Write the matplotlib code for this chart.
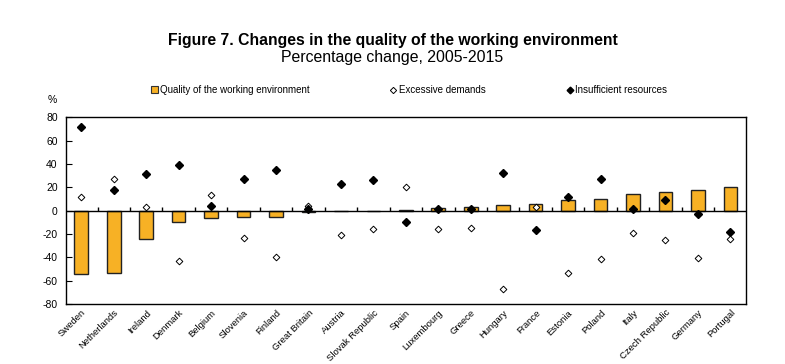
import numpy as np
import matplotlib.pyplot as plt
from matplotlib.lines import Line2D
from matplotlib.patches import Patch

plt.rcParams['font.family'] = ['Liberation Sans', 'DejaVu Sans']
plt.rcParams['axes.unicode_minus'] = False

countries = ["Sweden", "Netherlands", "Ireland", "Denmark", "Belgium", "Slovenia",
             "Finland", "Great Britain", "Austria", "Slovak Republic", "Spain",
             "Luxembourg", "Greece", "Hungary", "France", "Estonia", "Poland",
             "Italy", "Czech Republic", "Germany", "Portugal"]

quality = [-54, -53, -24.4, -10, -6.3, -5.4, -5.4, -1, 0, 0, 0.5,
           2, 3, 5, 5.5, 9.5, 10, 14, 16, 18, 20.4]
excessive = [11.8, 26.7, 3.2, -43, 13.5, -23.5, -40, 4.3, -21, -15.5, 20.4,
             -16, -15, -67, 3.4, -53.6, -41.5, -19, -25, -41, -24]
insufficient = [71.4, 17.8, 31.8, 39, 4.3, 27.3, 34.4, 1, 23, 26, -9.5,
                1, 1, 32.4, -16.3, 11.5, 26.7, 1, 9.5, -2.6, -18]

orange = "#F7B125"
x = np.arange(len(countries))

fig = plt.figure(figsize=(7.85, 3.64), dpi=100)
ax = fig.add_axes([0.0841, 0.1648, 0.8662, 0.513])

ax.bar(x, quality, width=0.42, color=orange, edgecolor="#222222", linewidth=1, zorder=2)
ax.axhline(0, color="black", lw=1, zorder=3)
# category separators on the zero line
ax.vlines(x[:-1] + 0.5, 0, 3.5, color="black", lw=1, zorder=3)
ax.plot(x, excessive, ls="none", marker="D", ms=3.4, mfc="white", mec="black",
        mew=0.7, zorder=4)
ax.plot(x, insufficient, ls="none", marker="D", ms=3.8, mfc="black", mec="black",
        zorder=5)

ax.set_xlim(-0.47, len(countries) - 0.52)
ax.set_ylim(-80, 80)
ax.set_yticks(np.arange(-80, 81, 20))
ax.tick_params(axis="y", direction="in", length=4, labelsize=7.5, pad=6)
ax.set_xticks(x)
ax.set_xticklabels(countries, rotation=45, ha="right", rotation_mode="anchor",
                   fontsize=6.8)
ax.tick_params(axis="x", length=0, pad=3)
for s in ax.spines.values():
    s.set_linewidth(1)

fig.text(0.5, 0.89, "Figure 7. Changes in the quality of the working environment",
         ha="center", va="center", fontsize=11.3, fontweight="bold")
fig.text(0.5, 0.841, "Percentage change, 2005-2015", ha="center", va="center",
         fontsize=11.4)
fig.text(0.067, 0.725, "%", ha="center", va="center", fontsize=7.5)

handles = [
    Patch(facecolor=orange, edgecolor="#333333", lw=0.8),
    Line2D([], [], ls="none", marker="D", ms=3.2, mfc="white", mec="black", mew=0.7),
    Line2D([], [], ls="none", marker="D", ms=3.4, mfc="black", mec="black"),
]
labels = ["Quality of the working environment", "Excessive demands",
          "Insufficient resources"]
fig.legend(handles, labels, loc="center left", bbox_to_anchor=(0.181, 0.752),
           ncol=3, frameon=False, fontsize=7, handlelength=0.7, handletextpad=0.2,
           columnspacing=8.3, handleheight=0.7)

fig.savefig("out.png", dpi=100)
